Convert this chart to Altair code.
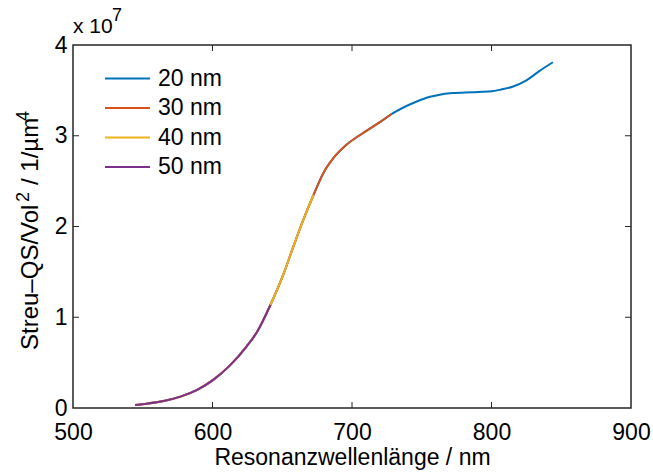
import altair as alt
import pandas as pd

# Resonance wavelength (nm) and scattering cross-section / volume^2 (units of 1e7 1/µm^4)
wl_20 = [544.5, 553, 565, 577, 589, 600.5, 612.5, 624.5, 632, 641.5, 651, 658, 665, 672.5,
         679.5, 686.5, 696, 708, 720, 728.5, 746, 756, 762, 772, 786, 800, 807, 815, 825, 834, 844]
qs_20 = [0.033, 0.048, 0.077, 0.125, 0.20, 0.31, 0.47, 0.68, 0.84, 1.135, 1.48, 1.78, 2.07, 2.35,
         2.59, 2.75, 2.90, 3.03, 3.15, 3.24, 3.375, 3.43, 3.45, 3.47, 3.48, 3.49, 3.51, 3.54, 3.61, 3.71, 3.81]

wl_30 = [544.5, 553, 565, 577, 589, 600.5, 612.5, 624.5, 632, 641.5, 651, 658, 665, 672.5,
         679.5, 686.5, 696, 708, 720, 728.5]
qs_30 = [0.033, 0.048, 0.077, 0.125, 0.20, 0.31, 0.47, 0.68, 0.84, 1.135, 1.48, 1.78, 2.07, 2.35,
         2.59, 2.75, 2.90, 3.03, 3.15, 3.24]

wl_40 = [544.5, 553, 565, 577, 589, 600.5, 612.5, 624.5, 632, 641.5, 651, 658, 665, 672.5]
qs_40 = [0.033, 0.048, 0.077, 0.125, 0.20, 0.31, 0.47, 0.68, 0.84, 1.135, 1.48, 1.78, 2.07, 2.35]

wl_50 = [544.5, 553, 565, 577, 589, 600.5, 612.5, 624.5, 632, 641.5]
qs_50 = [0.033, 0.048, 0.077, 0.125, 0.20, 0.31, 0.47, 0.68, 0.84, 1.135]

series_names = ["20 nm", "30 nm", "40 nm", "50 nm"]
series_colors = ["#0072BD", "#D95319", "#EDB120", "#7E2F8E"]

x_ticks = [500, 600, 700, 800, 900]
y_ticks = [0, 1, 2, 3, 4]

W, H = 558, 363
FONT = "Liberation Sans"
FS = 23
INK = "#262626"

frames = []
for name, wl, qs in zip(series_names, [wl_20, wl_30, wl_40, wl_50], [qs_20, qs_30, qs_40, qs_50]):
    frames.append(pd.DataFrame({"wl": wl, "qs": qs, "series": name}))
df = pd.concat(frames, ignore_index=True)

x_scale = alt.Scale(domain=[500, 900], nice=False, zero=False)
y_scale = alt.Scale(domain=[0, 4], nice=False)

# Legend swatch: a long horizontal stroke drawn from a custom path on a small symbol box
color = alt.Color("series:N",
                  scale=alt.Scale(domain=series_names, range=series_colors),
                  legend=alt.Legend(title=None, orient="none", legendX=43, legendY=22,
                                    symbolType="M-2.5,0H2.5", symbolSize=324, symbolStrokeWidth=2,
                                    symbolFillColor="transparent",
                                    labelFontSize=FS, labelFont=FONT, labelColor="black",
                                    labelOffset=19, rowPadding=5.5, padding=0))

x_axis = alt.Axis(values=x_ticks, title="Resonanzwellenlänge / nm", ticks=False, domain=False,
                  grid=False, labelPadding=13, titlePadding=2, labelFlush=False, format="d")
y_axis = alt.Axis(values=y_ticks, title=None, ticks=False, domain=False,
                  grid=False, labelPadding=6, labelFlush=False, format="d")

layers = []
for i, name in enumerate(series_names):
    base = (alt.Chart(df)
            .transform_filter(alt.datum.series == name)
            .mark_line(strokeWidth=2, interpolate="monotone"))
    if i == 0:
        enc = base.encode(x=alt.X("wl:Q", scale=x_scale, axis=x_axis),
                          y=alt.Y("qs:Q", scale=y_scale, axis=y_axis),
                          color=color)
    else:
        enc = base.encode(x=alt.X("wl:Q", scale=x_scale),
                          y=alt.Y("qs:Q", scale=y_scale),
                          color=color)
    layers.append(enc)

# Inward tick marks on all four sides of the box
xt = pd.DataFrame({"wl": x_ticks[1:-1]})
yt = pd.DataFrame({"qs": y_ticks[1:-1]})
TL = 6
tick_style = dict(color=INK, strokeWidth=1)
ticks = [
    alt.Chart(xt).mark_rule(**tick_style).encode(x=alt.X("wl:Q", scale=x_scale), y=alt.value(H), y2=alt.value(H - TL)),
    alt.Chart(xt).mark_rule(**tick_style).encode(x=alt.X("wl:Q", scale=x_scale), y=alt.value(0), y2=alt.value(TL)),
    alt.Chart(yt).mark_rule(**tick_style).encode(y=alt.Y("qs:Q", scale=y_scale), x=alt.value(0), x2=alt.value(TL)),
    alt.Chart(yt).mark_rule(**tick_style).encode(y=alt.Y("qs:Q", scale=y_scale), x=alt.value(W), x2=alt.value(W - TL)),
]


def label(text, x, y, size, angle=0):
    """A single piece of annotation text, left-aligned on its baseline."""
    props = dict(font=FONT, fontSize=size, color="black", align="left", baseline="alphabetic")
    if angle:
        props["angle"] = angle
    return alt.Chart(pd.DataFrame({"t": [text]})).mark_text(**props).encode(
        text="t:N", x=alt.value(x), y=alt.value(y))


# Exponent label above the y axis
exponent = [label("x 10", 0, -12, 21), label("7", 39, -24, 18)]

# Rotated y-axis title with raised superscripts
TS, SS = 24, 18
y_title = [
    label("Streu–QS/Vol", -35, 305, TS, 270),
    label("2", -44, 157, SS, 270),
    label("/ 1/µm", -35, 140, TS, 270),
    label("4", -44, 76, SS, 270),
]

chart = alt.layer(*layers, *ticks, *exponent, *y_title).properties(
    width=W, height=H,
    autosize=alt.AutoSizeParams(type="none"),
    padding={"left": 73, "top": 45, "right": 22, "bottom": 66},
    background="white",
).configure_view(
    stroke=INK, strokeWidth=1.5
).configure_axis(
    labelFont=FONT, labelFontSize=FS, labelColor="black",
    titleFont=FONT, titleFontSize=FS, titleColor="black", titleFontWeight="normal",
)

chart.save("out.html", embed_options={"renderer": "svg", "actions": False})
